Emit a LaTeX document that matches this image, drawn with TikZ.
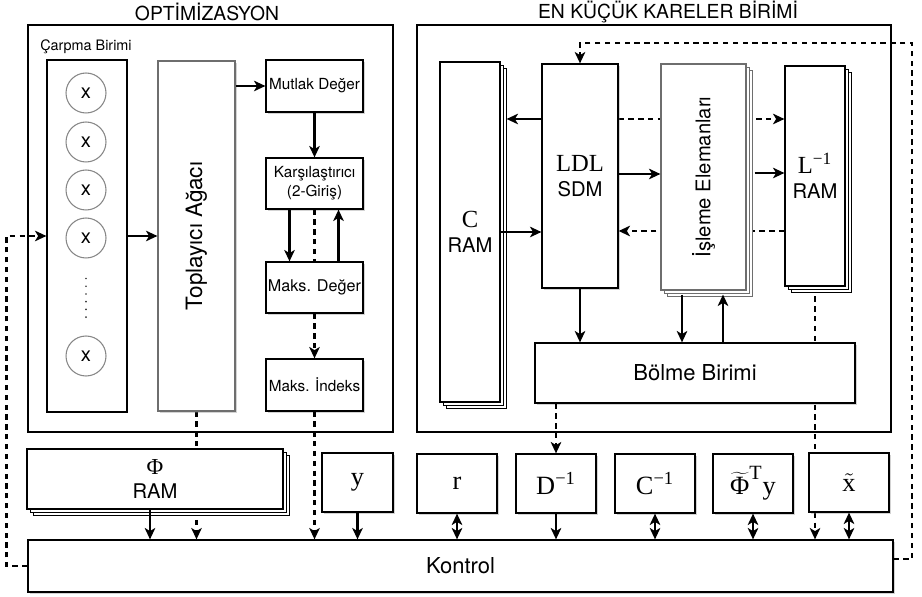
\documentclass[tikz,border=0pt]{standalone}
\usepackage{graphicx}
\usepackage{fontspec}
\setmainfont{TeX Gyre Heros}
\newfontfamily\tms{Liberation Serif}
\usetikzlibrary{arrows.meta,calc,shadows,backgrounds}
\definecolor{boxgrey}{RGB}{110,110,110}
\definecolor{ringgrey}{RGB}{135,135,135}

\begin{document}
\begin{tikzpicture}[x=0.02cm, y=-0.02cm,
  every node/.style={font=\fontsize{8.7}{11}\selectfont},
  ttl/.style={font=\fontsize{11}{12}\selectfont},
  frame/.style={draw, line width=0.7pt},
  blk/.style={draw, line width=0.7pt, fill=white, inner sep=1pt, align=center},
  shd/.style={drop shadow={shadow xshift=1.3pt, shadow yshift=-1.3pt, opacity=0.35}},
  stack/.style={copy shadow={shadow xshift=3.6pt, shadow yshift=-3.6pt}, copy shadow={shadow xshift=1.8pt, shadow yshift=-1.8pt}},
  ring/.style={draw=ringgrey, line width=0.6pt, circle, fill=white, minimum size=0.8cm, inner sep=0pt, font=\fontsize{11.5}{12}\selectfont},
  big/.style={font=\fontsize{12.5}{14}\selectfont},
  ram/.style={font=\fontsize{11.5}{14}\selectfont},
  arr/.style={-{Stealth[length=6.5pt, width=6pt, inset=1.8pt]}, line width=1.35pt},
  darr/.style={{Stealth[length=6.5pt, width=6pt, inset=1.8pt]}-{Stealth[length=6.5pt, width=6pt, inset=1.8pt]}, line width=1.35pt},
  dsh/.style={dash pattern=on 3pt off 2.6pt}]
\useasboundingbox (0,0) rectangle (922,597);

% titles and frames
\node[ttl] (tOpt) at (207,12) {OPTİMİZASYON};
\node[ttl] (tEkk) at (668,12) {EN KÜÇÜK KARELER BİRİMİ};
\node[frame, minimum width=7.3cm, minimum height=8.14cm] (fOpt) at (210.5,228.5) {};
\node[frame, minimum width=9.48cm, minimum height=8.14cm] (fEkk) at (654,228.5) {};

% optimisation unit
\node[font=\fontsize{8.2}{10}\selectfont] (carpLbl) at (86,47) {Çarpma Birimi};
\node[blk, minimum width=1.6cm, minimum height=7.04cm] (carp) at (87,236) {};
\foreach \i/\yy in {1/93,2/142,3/190,4/238,5/356}
  \node[ring] (m\i) at (86,\yy) {x};
\draw[line width=1.1pt, line cap=round, dash pattern=on 0pt off 4.4pt, black!80] ($(m4.south)+(0,20)$) -- ($(m5.north)+(0,-14)$);
\node[blk, shd, draw=boxgrey, minimum width=1.54cm, minimum height=7cm, font=\fontsize{12.8}{14}\selectfont] (topl) at (196.5,236) {\rotatebox{90}{Toplayıcı Ağacı}};
\node[blk, shd, minimum width=1.94cm, minimum height=1.04cm] (mut) at (314.5,86) {Mutlak Değer};
\node[blk, shd, minimum width=1.94cm, minimum height=1.02cm] (kar) at (314.5,183.5) {Karşılaştırıcı\\(2-Giriş)};
\node[blk, shd, minimum width=1.94cm, minimum height=1.02cm, font=\fontsize{9.2}{11}\selectfont] (mdeg) at (314.5,287.5) {Maks. Değer};
\node[blk, shd, minimum width=1.94cm, minimum height=1.04cm] (mind) at (314.5,385) {Maks. İndeks};

% least squares unit
\node[blk, stack, ram, minimum width=1.2cm, minimum height=6.8cm] (cram) at (470,232) {{\tms\fontsize{14}{14}\selectfont C}\\RAM};
\node[blk, shd, ram, minimum width=1.52cm, minimum height=4.48cm] (ldl) at (580,176) {{\tms\fontsize{14}{14}\selectfont LDL}\\SDM};
\node[blk, stack, draw=boxgrey, minimum width=1.7cm, minimum height=4.52cm, font=\fontsize{11.5}{13}\selectfont] (isl) at (703.5,177) {\rotatebox{90}{İşleme Elemanları}};
\node[blk, stack, ram, minimum width=1.2cm, minimum height=4.4cm] (lram) at (815,176) {{\tms\fontsize{14}{14}\selectfont L\textsuperscript{−1}}\\RAM};
\node[blk, shd, big, minimum width=6.4cm, minimum height=1.2cm] (bol) at (695,373) {Bölme Birimi};

% memories and control
\node[blk, stack, ram, minimum width=5.12cm, minimum height=1.2cm] (phi) at (155,479) {{\tms\fontsize{13}{14}\selectfont Φ}\\RAM};
\node[blk, shd, minimum width=1.42cm, minimum height=1.18cm, font=\tms\fontsize{15}{15}\selectfont] (ybox) at (357.5,482.5) {y};
\node[blk, shd, minimum width=1.6cm, minimum height=1.18cm, font=\tms\fontsize{15}{15}\selectfont] (rbox) at (457,483.5) {r};
\node[blk, shd, minimum width=1.6cm, minimum height=1.18cm, font=\tms\fontsize{15}{15}\selectfont] (dinv) at (556,483.5) {D\textsuperscript{−1}};
\node[blk, shd, minimum width=1.6cm, minimum height=1.18cm, font=\tms\fontsize{15}{15}\selectfont] (cinv) at (655,483.5) {C\textsuperscript{−1}};
\node[blk, shd, minimum width=1.6cm, minimum height=1.18cm, font=\tms\fontsize{15}{15}\selectfont] (phty) at (753,483.5) {$\widetilde{\mbox{\tms Φ}}^{\mbox{\tms\fontsize{11.5}{11}\selectfont T}}\mbox{\tms y}$};
\node[blk, shd, minimum width=1.6cm, minimum height=1.18cm, font=\tms\fontsize{15}{15}\selectfont] (xt) at (849,482.5) {$\tilde{\mbox{\tms x}}$};
\node[blk, shd, big, minimum width=17.3cm, minimum height=1.04cm] (kon) at (460.5,566) {Kontrol};

% connectors hidden behind boxes
\begin{scope}[on background layer]
\draw[dsh, arr] (topl.south) -- (topl.south |- kon.north);
\draw[dsh, arr] (lram.south) -- (lram.south |- kon.north);
\draw[dsh, arr] ($(ldl.east)+(0,-57)$) -- ($(lram.west)+(0,-57)$);
\draw[dsh, arr] ($(lram.west)+(0,55)$) -- ($(ldl.east)+(0,55)$);
\end{scope}

% optimisation connectors
\draw[arr] (carp.east) -- (topl.west);
\draw[arr] (topl.east |- mut.west) -- (mut.west);
\draw[arr] (mut.south) -- (kar.north);
\draw[arr] ($(kar.south)+(-25,0)$) -- ($(mdeg.north)+(-25,0)$);
\draw[dsh, line width=1.35pt] (kar.south) -- (mdeg.north);
\draw[arr] ($(mdeg.north)+(24,0)$) -- ($(kar.south)+(24,0)$);
\draw[dsh, arr] (mdeg.south) -- (mind.north);
\draw[dsh, arr] (mind.south) -- (mind.south |- kon.north);
\draw[arr] ($(phi.south)+(-5,0)$) -- ($(phi.south |- kon.north)+(-5,0)$);
\draw[arr] (ybox.south) -- (ybox.south |- kon.north);
\draw[dsh, arr] (kon.west) -- ++(-21,0) |- (carp.west);

% least squares connectors
\draw[arr] ($(ldl.west)+(0,-57)$) -- ($(cram.east)+(6,-113)$);
\draw[arr] (cram.east) -- (cram.east -| ldl.west);
\draw[arr] ($(ldl.east)+(0,-2)$) -- ($(ldl.east -| isl.west)+(0,-2)$);
\draw[arr] ($(isl.east)+(8,-4)$) -- ($(isl.east -| lram.west)+(0,-4)$);
\draw[arr] (ldl.south) -- (ldl.south |- bol.north);
\coordinate (islA) at ($(isl.south)+(-21.5,4)$);
\coordinate (islB) at ($(isl.south)+(19.5,4)$);
\draw[arr] (islA) -- (islA |- bol.north);
\draw[arr] (islB |- bol.north) -- (islB);
\draw[dsh, arr] (bol.south -| dinv.north) -- (dinv.north);

% control connectors
\draw[darr] (rbox.south) -- (rbox.south |- kon.north);
\draw[arr] (dinv.south) -- (dinv.south |- kon.north);
\draw[darr] (cinv.south) -- (cinv.south |- kon.north);
\draw[darr] (phty.south) -- (phty.south |- kon.north);
\draw[darr] (xt.south) -- (xt.south |- kon.north);
\coordinate (loopR) at (912,43);
\draw[dsh, arr] ($(kon.east)+(0,-7)$) -| (loopR) -| (ldl.north);
\end{tikzpicture}
\end{document}
